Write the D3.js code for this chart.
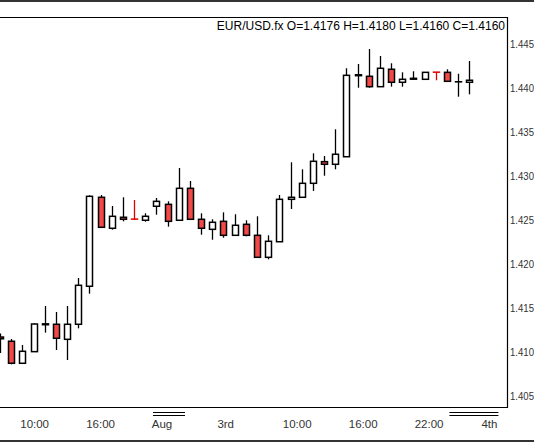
<!DOCTYPE html>
<html>
<head>
<meta charset="utf-8">
<script src="https://cdn.jsdelivr.net/npm/d3@7"></script>
<style>
  body { margin: 0; background: #fff; }
  text { font-family: "Liberation Sans", "DejaVu Sans", sans-serif; }
</style>
</head>
<body>
<div id="graf"></div>
<script>
// hourly bars, O H L C
const opens  = [1.4117,1.41122,1.40872,1.41004,1.4131,1.41315,1.41144,1.41315,1.41747,1.42758,1.42406,1.42531,1.4251,1.42497,1.42656,1.42678,1.42497,1.4286,1.42508,1.42394,1.42485,1.42326,1.42451,1.42326,1.42076,1.42253,1.42735,1.42758,1.42917,1.43163,1.43133,1.43219,1.4414,1.44133,1.44015,1.44213,1.44065,1.4410,1.44099,1.4418,1.44178,1.4407,1.44065]
const highs  = [1.4121,1.41148,1.4108,1.41326,1.41523,1.41455,1.41523,1.41841,1.42781,1.42784,1.42659,1.42758,1.42727,1.42576,1.4275,1.42712,1.43091,1.42943,1.42576,1.42508,1.42587,1.42565,1.42497,1.42542,1.42326,1.42784,1.43156,1.43076,1.43258,1.43227,1.43531,1.44224,1.44273,1.44443,1.44364,1.44281,1.44178,1.4419,1.44178,1.4418,1.44212,1.44162,1.44307]
const lows   = [1.4099,1.4086,1.40872,1.41004,1.4122,1.41023,1.40909,1.41269,1.41663,1.42417,1.4239,1.42485,1.425,1.42481,1.4256,1.42424,1.42497,1.42508,1.42333,1.42276,1.42299,1.42326,1.42315,1.42076,1.42053,1.42253,1.42625,1.42758,1.4283,1.43003,1.43076,1.43219,1.44003,1.44003,1.44015,1.44015,1.44015,1.4410,1.44099,1.44088,1.44076,1.43901,1.43928]
const closes = [1.4115,1.40872,1.41008,1.41318,1.4132,1.41156,1.41315,1.41758,1.42769,1.42417,1.42542,1.42508,1.4251,1.42542,1.42712,1.42485,1.4286,1.42508,1.42406,1.42474,1.42326,1.4244,1.42326,1.42076,1.42258,1.42735,1.42758,1.42917,1.43167,1.43133,1.43247,1.44144,1.4415,1.44015,1.44224,1.44065,1.44099,1.4411,1.44178,1.4418,1.44076,1.44071,1.44088]

const yTicks = [1.405,1.410,1.415,1.420,1.425,1.430,1.435,1.440,1.445]
const xLabels = ["10:00","16:00","Aug","3rd","10:00","16:00","22:00","4th"]
const xLabelPos = [3.1,9.0,14.5,20.2,26.6,32.5,38.4,43.8]
const xLabelMajor = [false,false,true,false,false,false,false,true]
const title = "EUR/USD.fx O=1.4176 H=1.4180 L=1.4160 C=1.4160"

const W = 534, H = 442
const plot = { left: 0, top: 17, right: 507, bottom: 407 }

const svg = d3.select("#graf").append("svg")
  .attr("width", W).attr("height", H)

const x = d3.scaleLinear().domain([0, 42]).range([0, 469.3])
const y = d3.scaleLinear().domain([1.405, 1.445]).range([396, 44])

const data = opens.map((o, i) => ({ i, o, h: highs[i], l: lows[i], c: closes[i] }))

svg.append("defs").append("clipPath").attr("id", "clip")
  .append("rect").attr("x", plot.left).attr("y", plot.top)
  .attr("width", plot.right - plot.left).attr("height", plot.bottom - plot.top)

const g = svg.append("g").attr("clip-path", "url(#clip)")

const bars = g.selectAll("g.bar").data(data).enter().append("g").attr("class", "bar")

const col = (d) => d.o === d.c ? "#e00000" : "#000"

bars.append("line")
  .attr("x1", (d) => Math.round(x(d.i)) + 0.5).attr("x2", (d) => Math.round(x(d.i)) + 0.5)
  .attr("y1", (d) => y(d.h)).attr("y2", (d) => y(d.l))
  .attr("stroke", col).attr("stroke-width", 1.3)

bars.append("rect")
  .attr("x", (d) => Math.round(x(d.i)) - 2.5)
  .attr("width", 6)
  .attr("y", (d) => y(Math.max(d.o, d.c)))
  .attr("height", (d) => Math.max(0.01, y(Math.min(d.o, d.c)) - y(Math.max(d.o, d.c))))
  .attr("fill", (d) => d.c < d.o ? "#f24848" : "#fff")
  .attr("stroke", col).attr("stroke-width", 1.5)

// frame
svg.append("line").attr("x1", 0).attr("x2", W).attr("y1", 1).attr("y2", 1)
  .attr("stroke", "#333").attr("stroke-width", 2)
svg.append("line").attr("x1", 0).attr("x2", W).attr("y1", 441).attr("y2", 441)
  .attr("stroke", "#333").attr("stroke-width", 2)
svg.append("path")
  .attr("d", `M0,${plot.top + 0.5}H${plot.right + 0.5}V${plot.bottom + 0.5}H0`)
  .attr("fill", "none").attr("stroke", "#000").attr("stroke-width", 1.2)

svg.append("text").attr("x", 505).attr("y", 30).attr("text-anchor", "end")
  .attr("font-size", 12).attr("fill", "#000").text(title)

// right axis
svg.selectAll("text.ytick").data(yTicks).enter().append("text")
  .attr("class", "ytick").attr("x", 510).attr("y", (d) => y(d) + 4)
  .attr("font-size", 10.5).attr("textLength", 24).attr("lengthAdjust", "spacingAndGlyphs")
  .attr("fill", "#333").text((d) => d.toFixed(3))

// bottom labels
const xl = svg.selectAll("g.xl").data(xLabels).enter().append("g").attr("class", "xl")
xl.append("text")
  .attr("x", (d, i) => x(xLabelPos[i])).attr("y", 428)
  .attr("text-anchor", "middle").attr("font-size", 11.5).attr("fill", "#333")
  .text((d) => d)
xl.filter((d, i) => xLabelMajor[i]).each(function (d) {
  const k = xLabels.indexOf(d)
  const cx = x(xLabelPos[k])
  const x0 = d === "4th" ? cx - 40 : cx - 9
  const x1 = d === "4th" ? cx + 9 : cx + 23
  ;[412.5, 415.5].forEach((yy) => {
    d3.select(this).append("line").attr("x1", x0).attr("x2", x1)
      .attr("y1", yy).attr("y2", yy).attr("stroke", "#000").attr("stroke-width", 1)
  })
})
</script>
</body>
</html>
